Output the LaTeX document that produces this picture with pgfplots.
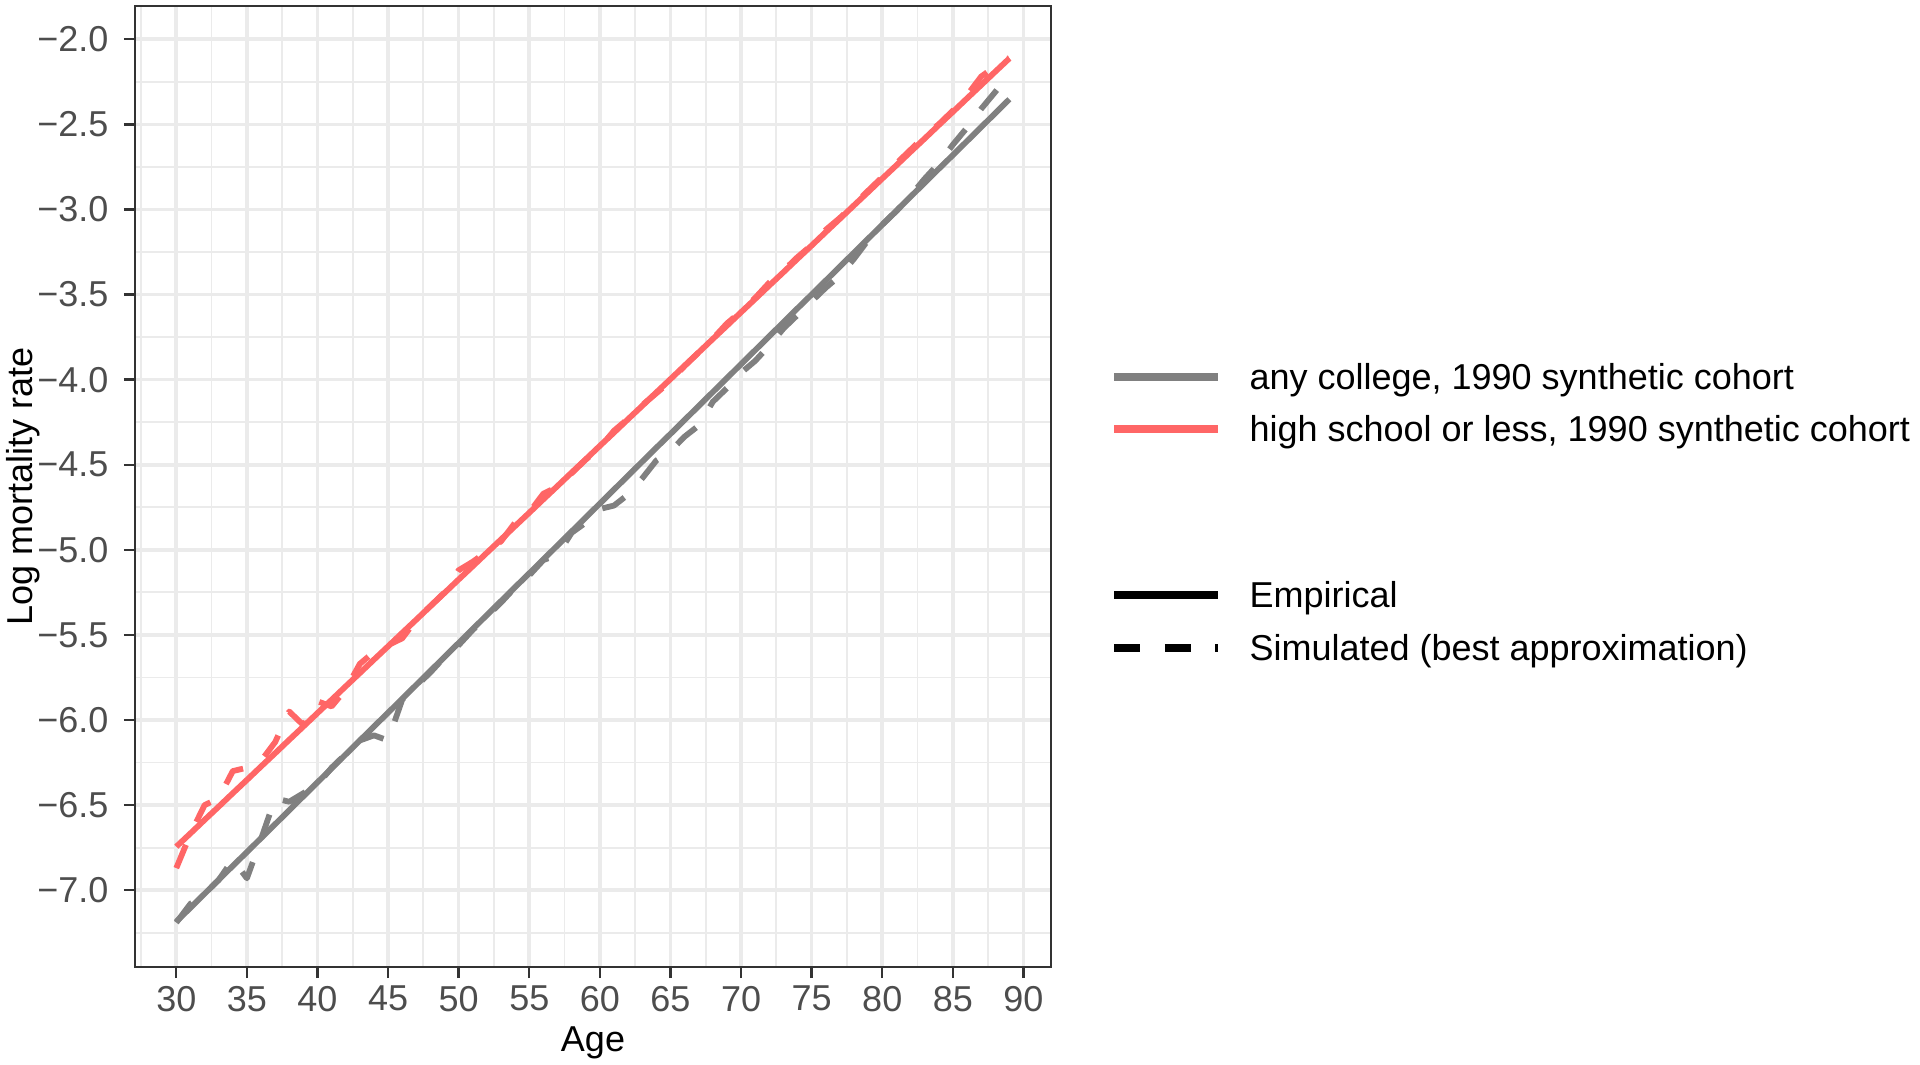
\documentclass[border=0pt]{standalone}
\usepackage{fontspec}
\setmainfont{Liberation Sans}
\usepackage{pgfplots}
\usepackage{pgfplotstable}
\pgfplotsset{compat=1.18}
\definecolor{cgray}{HTML}{808080}
\definecolor{cred}{HTML}{FF6666}
\definecolor{gridc}{HTML}{EBEBEB}
\definecolor{tickc}{HTML}{4D4D4D}
\definecolor{framec}{HTML}{333333}

\pgfplotstableread{
age g gs r rs
30 -7.185 -7.19 -6.744 -6.87
31 -7.103 -7.08 -6.666 -6.67
32 -7.021 -7.02 -6.587 -6.50
33 -6.939 -6.94 -6.509 -6.46
34 -6.857 -6.82 -6.430 -6.30
35 -6.776 -6.93 -6.352 -6.28
36 -6.694 -6.70 -6.273 -6.24
37 -6.612 -6.46 -6.195 -6.13
38 -6.530 -6.48 -6.116 -5.95
39 -6.448 -6.43 -6.038 -6.03
40 -6.366 -6.38 -5.959 -5.89
41 -6.284 -6.28 -5.881 -5.92
42 -6.202 -6.20 -5.802 -5.82
43 -6.120 -6.12 -5.724 -5.67
44 -6.038 -6.09 -5.645 -5.60
45 -5.957 -6.12 -5.567 -5.56
46 -5.875 -5.88 -5.488 -5.52
47 -5.793 -5.80 -5.410 -5.41
48 -5.711 -5.72 -5.331 -5.33
49 -5.629 -5.63 -5.253 -5.25
50 -5.547 -5.56 -5.174 -5.12
51 -5.465 -5.47 -5.096 -5.07
52 -5.383 -5.39 -5.017 -5.01
53 -5.301 -5.31 -4.939 -4.95
54 -5.219 -5.22 -4.860 -4.84
55 -5.138 -5.15 -4.782 -4.78
56 -5.056 -5.06 -4.703 -4.67
57 -4.974 -5.03 -4.625 -4.63
58 -4.892 -4.90 -4.546 -4.55
59 -4.810 -4.84 -4.468 -4.47
60 -4.728 -4.76 -4.389 -4.40
61 -4.646 -4.74 -4.311 -4.30
62 -4.564 -4.675 -4.232 -4.23
63 -4.482 -4.58 -4.154 -4.15
64 -4.400 -4.475 -4.075 -4.08
65 -4.319 -4.42 -3.997 -4.01
66 -4.237 -4.335 -3.918 -3.92
67 -4.155 -4.27 -3.840 -3.84
68 -4.073 -4.13 -3.761 -3.76
69 -3.991 -4.05 -3.683 -3.67
70 -3.909 -3.96 -3.604 -3.60
71 -3.827 -3.89 -3.526 -3.52
72 -3.745 -3.80 -3.447 -3.43
73 -3.663 -3.70 -3.369 -3.36
74 -3.581 -3.62 -3.290 -3.28
75 -3.500 -3.54 -3.212 -3.21
76 -3.418 -3.46 -3.133 -3.12
77 -3.336 -3.39 -3.055 -3.05
78 -3.254 -3.29 -2.976 -2.97
79 -3.172 -3.18 -2.898 -2.89
80 -3.090 -3.09 -2.819 -2.81
81 -3.008 -3.01 -2.741 -2.73
82 -2.926 -2.92 -2.662 -2.65
83 -2.844 -2.82 -2.584 -2.57
84 -2.762 -2.73 -2.505 -2.50
85 -2.681 -2.62 -2.427 -2.42
86 -2.599 -2.52 -2.348 -2.33
87 -2.517 -2.41 -2.270 -2.22
88 -2.435 -2.31 -2.191 -2.16
89 -2.353 -2.21 -2.113 -2.11
}\mort

\begin{document}
\begin{tikzpicture}
\path[use as bounding box] (0,0) rectangle (480pt,266pt);
\begin{axis}[
  at={(33.75pt,24.25pt)}, anchor=south west, scale only axis,
  width=229pt, height=240.25pt,
  xmin=27.075, xmax=91.95, ymin=-7.451, ymax=-1.805,
  xtick={30,35,40,45,50,55,60,65,70,75,80,85,90},
  xticklabels={30,35,40,45,50,55,60,65,70,75,80,85,90},
  ytick={-7,-6.5,-6,-5.5,-5,-4.5,-4,-3.5,-3,-2.5,-2},
  yticklabels={−7.0,−6.5,−6.0,−5.5,−5.0,−4.5,−4.0,−3.5,−3.0,−2.5,−2.0},
  minor xtick={27.5,32.5,37.5,42.5,47.5,52.5,57.5,62.5,67.5,72.5,77.5,82.5,87.5},
  minor ytick={-7.25,-6.75,-6.25,-5.75,-5.25,-4.75,-4.25,-3.75,-3.25,-2.75,-2.25},
  grid=both,
  major grid style={gridc, line width=0.9pt},
  minor grid style={gridc, line width=0.45pt},
  tick align=outside, major tick length=2.8pt, minor tick length=0pt,
  xtick pos=bottom, ytick pos=left,
  every tick/.style={framec, line width=0.6pt},
  axis line style={framec, line width=0.7pt},
  ticklabel style={font=\fontsize{9}{10}\selectfont, text=tickc},
  xticklabel style={yshift=1.6pt},
  yticklabel style={xshift=-0.3pt},
  clip=true,
]
\addplot[cgray, line width=1.45pt, line join=round] table[x=age, y=g] {\mort};
\addplot[cred, line width=1.45pt, line join=round] table[x=age, y=r] {\mort};
\addplot[cgray, line width=1.45pt, line join=round, dash pattern=on 6.3pt off 6.3pt] table[x=age, y=gs] {\mort};
\addplot[cred, line width=1.45pt, line join=round, dash pattern=on 6.3pt off 6.3pt] table[x=age, y=rs] {\mort};
\end{axis}
% axis titles
\node[font=\fontsize{9}{10}\selectfont, anchor=base] at (148.25pt,3.2pt) {Age};
\node[font=\fontsize{9}{10}\selectfont, rotate=90, anchor=base] at (8.1pt,144.4pt) {Log mortality rate};
% legend
\begin{scope}[font=\fontsize{9}{10}\selectfont]
\draw[cgray, line width=2pt] (278.6pt,171.75pt) -- (304.6pt,171.75pt);
\node[anchor=base west, inner sep=0pt] at (312.2pt,168.55pt) {any college, 1990 synthetic cohort};
\draw[cred, line width=2pt] (278.6pt,158.85pt) -- (304.6pt,158.85pt);
\node[anchor=base west, inner sep=0pt] at (312.2pt,155.65pt) {high school or less, 1990 synthetic cohort};
\draw[black, line width=2pt] (278.6pt,117.25pt) -- (304.6pt,117.25pt);
\node[anchor=base west, inner sep=0pt] at (312.2pt,114.05pt) {Empirical};
\draw[black, line width=2pt, dash pattern=on 6.5pt off 6.1pt] (278.6pt,104pt) -- (304.6pt,104pt);
\node[anchor=base west, inner sep=0pt] at (312.2pt,100.8pt) {Simulated (best approximation)};
\end{scope}
\end{tikzpicture}
\end{document}
